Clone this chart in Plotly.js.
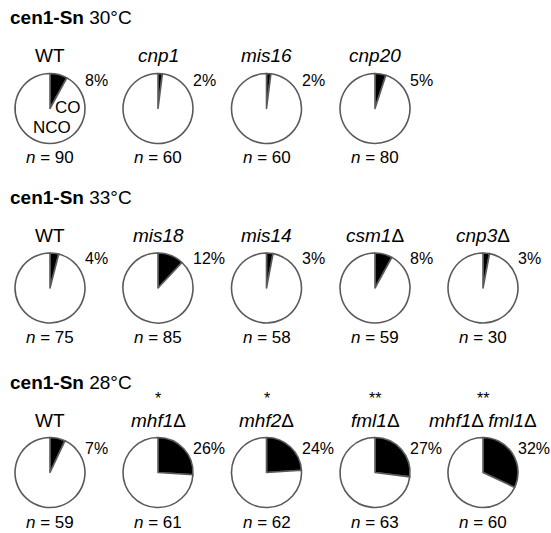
<!DOCTYPE html>
<html><head><meta charset="utf-8">
<script src="https://cdn.plot.ly/plotly-3.0.1.min.js"></script>
<style>body{margin:0;background:#fff}</style>
</head><body><div id="chart" style="width:551px;height:533px"></div>
<script>
// Data
const rowTitles = ['30°C', '33°C', '28°C'];
const row1Names = ['WT', 'cnp1', 'mis16', 'cnp20'];
const row1Pct = [8, 2, 2, 5];
const row1N = [90, 60, 60, 80];
const row2Names = ['WT', 'mis18', 'mis14', 'csm1Δ', 'cnp3Δ'];
const row2Pct = [4, 12, 3, 8, 3];
const row2N = [75, 85, 58, 59, 30];
const row3Names = ['WT', 'mhf1Δ', 'mhf2Δ', 'fml1Δ', 'mhf1Δ fml1Δ'];
const row3Pct = [7, 26, 24, 27, 32];
const row3N = [59, 61, 62, 63, 60];
const row3Sig = ['', '*', '*', '**', '**'];
const sliceLabels = ['CO', 'NCO'];

const W = 551, H = 533, R = 35;
const colX = [50, 158, 266.5, 375, 483];
const rows = [
  {names: row1Names, pct: row1Pct, n: row1N, cy: 108.5, nameY: 55, pctY: 80, nY: 158, headY: 17, sig: null},
  {names: row2Names, pct: row2Pct, n: row2N, cy: 288, nameY: 235, pctY: 259, nY: 337, headY: 197, sig: null},
  {names: row3Names, pct: row3Pct, n: row3N, cy: 472.5, nameY: 420, pctY: 448, nY: 522, headY: 383, sig: row3Sig}
];

function fmtName(s) {
  if (s === 'WT') return s;
  return s.split(' ').map(p => p.replace(/^([^Δ]+)(Δ?)$/, '<i>$1</i>$2')).join(' ');
}

const FONT = 'Arial, "Liberation Sans", sans-serif';
const traces = [];
const ann = [];
function addText(text, px, py, size, anchor) {
  ann.push({text: text, x: px / W, y: 1 - py / H, xref: 'paper', yref: 'paper',
    xanchor: anchor || 'center', yanchor: 'middle', showarrow: false,
    font: {size: size, color: '#000', family: FONT}});
}
rows.forEach((row, ri) => {
  addText('<b>cen1-Sn</b> ' + rowTitles[ri], 8, row.headY, 19, 'left');
  row.names.forEach((nm, i) => {
    const cx = colX[i], cy = row.cy;
    traces.push({
      type: 'pie', values: [row.pct[i], 100 - row.pct[i]], labels: sliceLabels,
      sort: false, direction: 'clockwise', rotation: 0, textinfo: 'none', hoverinfo: 'none',
      marker: {colors: ['#000', '#fff'], line: {color: '#5a5a5a', width: 1.6}},
      domain: {x: [(cx - R) / W, (cx + R) / W], y: [1 - (cy + R) / H, 1 - (cy - R) / H]},
      showlegend: false
    });
    addText(fmtName(nm), cx, row.nameY, 19);
    addText(row.pct[i] + '%', cx + 33, row.pctY, 16, 'left');
    addText('<i>n</i> = ' + row.n[i], cx, row.nY, 17);
    if (row.sig && row.sig[i]) addText(row.sig[i], cx, row.nameY - 22, 16);
  });
});
// slice labels inside first WT pie
addText(sliceLabels[0], 68, 107, 17);
addText(sliceLabels[1], 52, 127, 17);

Plotly.newPlot('chart', traces, {
  width: W, height: H, margin: {l: 0, r: 0, t: 0, b: 0},
  paper_bgcolor: '#fff', plot_bgcolor: '#fff', annotations: ann, showlegend: false
}, {staticPlot: true});
</script></body></html>
